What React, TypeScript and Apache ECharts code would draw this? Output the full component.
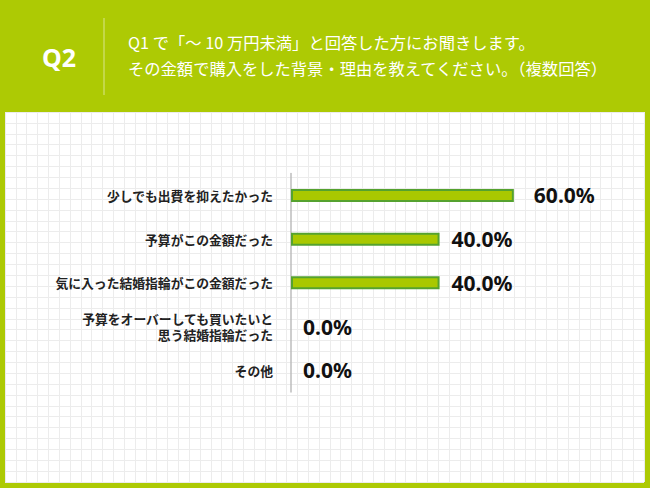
import React, { useEffect, useRef } from "react";
import * as echarts from "echarts";

const categories = [
  "少しでも出費を抑えたかった",
  "予算がこの金額だった",
  "気に入った結婚指輪がこの金額だった",
  "予算をオーバーしても買いたいと\n思う結婚指輪だった",
  "その他",
];
const values = [60.0, 40.0, 40.0, 0.0, 0.0];
const questionLabel = "Q2";
const questionText =
  "Q1 で「～ 10 万円未満」と回答した方にお聞きします。\nその金額で購入をした背景・理由を教えてください。（複数回答）";

const GREEN = "#adca04";
const BAR_FILL = "#a9c800";
const BAR_BORDER = "#55a22f";
const JP = '"Noto Sans CJK JP", "Noto Sans", sans-serif';

export default function App() {
  const ref = useRef<HTMLDivElement>(null);
  useEffect(() => {
    if (!ref.current) return;
    const chart = echarts.init(ref.current, null, { renderer: "svg" });
    const hiddenAxisBits = {
      axisLine: { show: false },
      axisTick: { show: false },
      axisLabel: { show: false },
    };
    chart.setOption({
      animation: false,
      backgroundColor: GREEN,
      grid: [
        { left: 291, top: 173.6, width: 260, height: 218.5 },
        {
          left: 5,
          top: 112,
          width: 639,
          height: 370,
          show: true,
          backgroundColor: "#ffffff",
          borderWidth: 0,
          z: 0,
        },
      ],
      xAxis: [
        { type: "value", gridIndex: 0, min: 0, max: 70, show: false },
        {
          type: "value",
          gridIndex: 1,
          min: 0,
          max: 59,
          interval: 1,
          ...hiddenAxisBits,
          splitLine: { show: true, lineStyle: { color: "#ececec", width: 1 } },
          z: 0,
        },
      ],
      yAxis: [
        {
          type: "category",
          gridIndex: 0,
          data: categories,
          inverse: true,
          axisLine: { show: true, lineStyle: { color: "#bdbdbd", width: 1.5 } },
          axisTick: { show: false },
          splitLine: { show: false },
          axisLabel: {
            margin: 18,
            fontSize: 12.8,
            fontWeight: "bold",
            color: "#222222",
            fontFamily: JP,
            lineHeight: 16,
            align: "right",
          },
          z: 3,
        },
        {
          type: "value",
          gridIndex: 1,
          min: 0,
          max: 34,
          interval: 1,
          ...hiddenAxisBits,
          splitLine: { show: true, lineStyle: { color: "#ececec", width: 1 } },
          z: 0,
        },
      ],
      series: [
        {
          type: "bar",
          xAxisIndex: 0,
          yAxisIndex: 0,
          barWidth: 13,
          z: 4,
          data: values.map((v, i) => ({
            value: v,
            label: i === 0 ? { distance: 20 } : undefined,
            itemStyle: v === 0 ? { borderWidth: 0 } : undefined,
          })),
          itemStyle: {
            color: BAR_FILL,
            borderColor: BAR_BORDER,
            borderWidth: 2,
          },
          label: {
            show: true,
            position: "right",
            distance: 12,
            formatter: (p: any) => p.value.toFixed(1) + "%",
            fontSize: 21,
            fontWeight: "bold",
            color: "#111111",
            fontFamily: '"Noto Sans", sans-serif',
          },
        },
      ],
      graphic: [
        {
          type: "text",
          x: 59,
          y: 57,
          z: 10,
          style: {
            text: questionLabel,
            fill: "#ffffff",
            fontSize: 25,
            fontWeight: "bold",
            fontFamily: '"Noto Sans", sans-serif',
            textAlign: "center",
            textVerticalAlign: "middle",
          },
        },
        {
          type: "line",
          z: 10,
          shape: { x1: 104, y1: 18, x2: 104, y2: 95 },
          style: { stroke: "rgba(255,255,255,0.55)", lineWidth: 1 },
        },
        {
          type: "text",
          x: 128,
          y: 55,
          z: 10,
          style: {
            text: questionText,
            fill: "#ffffff",
            fontSize: 16.3,
            fontFamily: JP,
            lineHeight: 26,
            textAlign: "left",
            textVerticalAlign: "middle",
          },
        },
      ],
    });
    return () => chart.dispose();
  }, []);
  return (
    <div
      ref={ref}
      style={{ position: "fixed", left: 0, top: 0, width: 650, height: 488 }}
    />
  );
}
